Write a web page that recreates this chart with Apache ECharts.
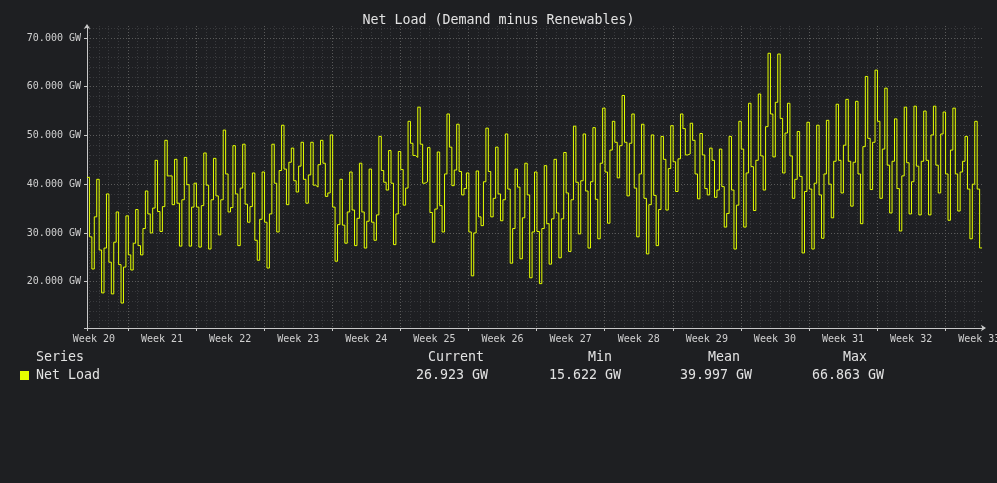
<!DOCTYPE html>
<html>
<head>
<meta charset="utf-8">
<script src="https://cdn.jsdelivr.net/npm/echarts@6/dist/echarts.min.js"></script>
<style>
html,body{margin:0;padding:0;background:#1e1f22;}
#c{width:997px;height:483px;}
</style>
</head>
<body>
<div id="c"></div>
<script>
const chartTitle = 'Net Load (Demand minus Renewables)';
const seriesName = 'Net Load';
const stepDays = 0.25; // 6-hour samples
const netLoad = [
 41.4,29.2,22.6,33.3,41.0,26.5,17.7,26.9,38.0,24.0,17.5,28.1,34.3,23.5,15.62,23.0,33.5,25.5,22.4,27.9,34.8,27.4,25.5,30.9,38.6,33.9,30.0,35.1,44.9,34.4,30.3,35.4,49.0,41.7,41.7,35.8,45.1,36.1,27.3,36.8,45.5,39.9,27.3,35.3,40.2,35.3,27.1,35.6,46.4,39.8,26.7,36.8,45.3,37.6,29.6,36.8,51.1,42.1,34.3,35.2,47.9,
 38.0,27.4,39.2,48.2,35.9,32.2,35.4,42.3,28.5,24.4,32.8,42.5,32.2,22.8,33.9,48.2,40.2,30.2,42.8,52.1,43.1,35.8,44.5,47.4,40.7,38.4,43.7,48.6,41.0,36.1,41.9,48.6,39.8,39.4,44.0,49.0,44.3,37.5,38.2,50.1,35.3,24.2,31.7,41.0,31.6,27.9,34.3,42.5,34.7,27.4,33.0,44.3,34.3,26.9,32.4,43.1,32.2,28.5,33.7,49.8,
 42.8,40.4,38.8,46.9,40.2,27.6,33.9,46.7,43.0,35.7,39.2,52.9,48.4,45.9,45.5,55.8,48.2,40.2,40.5,47.5,34.2,28.1,34.9,46.6,35.6,30.2,42.1,54.4,47.6,39.7,42.9,52.3,42.6,37.8,39.1,42.3,30.2,21.2,30.0,42.7,33.3,31.5,40.5,51.5,42.6,33.3,37.1,47.6,38.0,32.5,36.8,50.3,39.0,23.8,30.9,43.1,39.4,24.7,33.1,44.3,
 37.8,20.8,30.2,42.5,30.3,19.6,30.9,43.8,31.9,23.6,32.9,45.1,34.1,24.9,32.9,46.5,38.2,26.2,36.8,51.9,40.4,29.8,40.7,50.3,38.6,26.9,40.5,51.6,36.9,28.8,44.3,55.6,42.5,32.0,47.0,52.9,48.6,41.3,47.9,58.2,48.6,37.6,48.4,54.4,39.2,29.2,42.1,52.3,37.1,25.7,35.8,50.1,37.7,27.4,34.8,49.8,45.1,34.7,43.2,52.0,44.6,
 38.5,45.2,54.4,51.4,46.0,46.2,52.5,49.0,42.1,37.0,50.4,46.0,39.1,37.8,47.4,44.9,37.3,38.8,47.2,39.5,31.2,34.0,49.8,38.8,26.7,35.7,52.9,47.2,31.2,42.3,56.6,43.6,34.6,44.9,58.5,45.8,38.8,51.8,66.86,54.4,45.6,56.8,66.7,53.5,42.3,50.5,56.6,45.8,37.1,41.0,50.8,41.6,25.9,38.5,52.7,39.0,26.7,40.2,52.1,37.8,
 28.9,42.1,53.1,40.0,33.1,44.7,56.4,44.9,38.2,48.0,57.4,44.7,35.5,44.5,57.0,42.1,31.9,47.7,62.1,49.4,38.9,48.6,63.4,52.9,37.1,47.2,59.7,43.9,34.1,44.7,53.4,39.1,30.4,41.7,55.8,44.4,33.9,40.5,56.0,43.7,33.7,44.7,55.0,44.9,33.7,50.1,56.0,43.9,38.2,50.3,54.8,42.1,32.6,47.0,55.6,42.1,34.5,42.5,44.7,49.8,39.0,28.8,40.0,52.9,39.0,26.92
];
const weekLabels = ['Week 20','Week 21','Week 22','Week 23','Week 24','Week 25','Week 26','Week 27','Week 28','Week 29','Week 30','Week 31','Week 32','Week 33'];
const firstWeekBoundary = 4.21; // days from axis start to start of Week 21
const xMax = 92.2;
const yMin = 10.5, yMax = 72.45;
const yMajorTicks = [20,30,40,50,60,70];
const yMinorStep = 2;
const statHeaders = ['Current','Min','Mean','Max'];
const statValues = ['26.923 GW','15.622 GW','39.997 GW','66.863 GW'];

const FONT = 'DejaVu Sans Mono';
const weekBoundaries = [];
for (let d = firstWeekBoundary; d <= xMax; d += 7) weekBoundaries.push(+d.toFixed(3));
const dayLines = [];
for (let d = firstWeekBoundary % 1; d <= xMax; d += 1) {
  const dd = +d.toFixed(3);
  if (!weekBoundaries.some(w => Math.abs(w - dd) < 1e-6)) dayLines.push(dd);
}
const labelPositions = weekLabels.map((_, k) => +(firstWeekBoundary - 3.5 + 7 * k).toFixed(3));
const yMinor = [];
for (let v = Math.ceil(yMin / yMinorStep) * yMinorStep; v <= yMax; v += yMinorStep) {
  if (yMajorTicks.indexOf(v) < 0) yMinor.push(v);
}
const seriesData = netLoad.map((v, i) => [i * stepDays, v]);
seriesData.push([netLoad.length * stepDays, netLoad[netLoad.length - 1]]);

const statLeft = [428, 588, 708, 843];
const valueLeft = [416, 549, 680, 812];
const graphics = [
  {type:'text', left:36, top:351, style:{text:'Series', font:'13.3px "'+FONT+'"', fill:'#e2e2e2'}}
];
statHeaders.forEach((h, i) => {
  graphics.push({type:'text', left:statLeft[i], top:351, style:{text:h, font:'13.3px "'+FONT+'"', fill:'#e2e2e2'}});
  graphics.push({type:'text', left:valueLeft[i], top:369, style:{text:statValues[i], font:'13.3px "'+FONT+'"', fill:'#e2e2e2'}});
});

const chart = echarts.init(document.getElementById('c'), null, {renderer:'canvas'});
chart.setOption({
  backgroundColor:'#1e1f22',
  animation:false,
  title:{text:chartTitle, left:'center', top:14, padding:0,
    textStyle:{fontFamily:FONT, fontSize:13.3, fontWeight:'normal', color:'#e2e2e2'}},
  legend:{left:20, top:369, padding:0, itemWidth:9, itemHeight:9, icon:'rect',
    data:[seriesName],
    textStyle:{fontFamily:FONT, fontSize:13.3, color:'#e2e2e2', padding:[0,0,0,2]}},
  graphic:graphics,
  grid:{left:87, right:13, top:26, bottom:155, containLabel:false, outerBoundsMode:'none'},
  xAxis:[{
    type:'value', min:0, max:xMax,
    axisLine:{show:true, lineStyle:{color:'#c8c8c8', width:1}, symbol:['none','arrow'], symbolSize:[5,5], symbolOffset:[0,2]},
    axisTick:{show:true, length:3, customValues:[0].concat(weekBoundaries), lineStyle:{color:'#c8c8c8'}},
    axisLabel:{show:true, customValues:labelPositions, margin:6, color:'#d0d0d0', fontFamily:FONT, fontSize:10,
      formatter:function(v){ const k = Math.round((v - (firstWeekBoundary - 3.5)) / 7); return weekLabels[k] || ''; }},
    splitLine:{show:true, lineStyle:{color:'#5a5a5a', type:[1,2], width:1}}
  },{
    type:'value', min:0, max:xMax, position:'top',
    axisLine:{show:false}, axisLabel:{show:false},
    axisTick:{show:false, customValues:dayLines},
    splitLine:{show:true, lineStyle:{color:'#393a3d', type:[1,2], width:1}}
  }],
  yAxis:[{
    type:'value', min:yMin, max:yMax,
    axisLine:{show:true, lineStyle:{color:'#c8c8c8', width:1}, symbol:['none','arrow'], symbolSize:[5,5], symbolOffset:[0,2]},
    axisTick:{show:true, length:3, customValues:[yMin].concat(yMajorTicks), lineStyle:{color:'#c8c8c8'}},
    axisLabel:{show:true, customValues:yMajorTicks, margin:6, color:'#d0d0d0', fontFamily:FONT, fontSize:10,
      verticalAlign:'middle', padding:[2,0,0,0],
      formatter:function(v){ return v.toFixed(3) + ' GW'; }},
    splitLine:{show:true, lineStyle:{color:'#5a5a5a', type:[1,2], width:1}}
  },{
    type:'value', min:yMin, max:yMax, position:'right',
    axisLine:{show:false}, axisLabel:{show:false},
    axisTick:{show:false, customValues:yMinor},
    splitLine:{show:true, lineStyle:{color:'#393a3d', type:[1,2], width:1}}
  }],
  series:[{
    name:seriesName, type:'line', step:'end', xAxisIndex:0, yAxisIndex:0,
    data:seriesData, showSymbol:false, symbol:'none',
    lineStyle:{color:'#e5ff00', width:1}, itemStyle:{color:'#e5ff00'},
    emphasis:{disabled:true}, z:5
  }]
});
</script>
</body>
</html>
